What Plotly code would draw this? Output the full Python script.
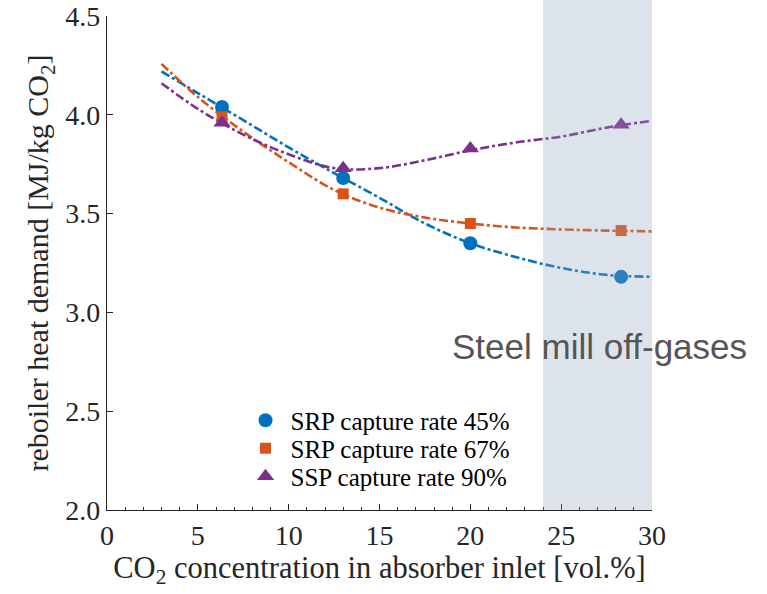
import plotly.graph_objects as go

# Simulated operating points: CO2 concentration in absorber inlet [vol.%]
co2_pts = [6.33, 13.0, 20.0, 28.3]
srp45_pts = [4.04, 3.68, 3.35, 3.18]
srp67_pts = [3.99, 3.60, 3.45, 3.414]
ssp90_pts = [3.96, 3.73, 3.83, 3.95]

# Fitted trend curves through the operating points
fit_x = [3, 5, 7.5, 10, 12.5, 15, 17.5, 20, 22.5, 25, 27.5, 30]
srp45_fit = [4.22, 4.11, 3.973, 3.835, 3.705, 3.58, 3.45, 3.35, 3.28, 3.225, 3.19, 3.18]
srp67_fit = [4.258, 4.09, 3.915, 3.76, 3.62, 3.53, 3.48, 3.45, 3.43, 3.42, 3.414, 3.41]
ssp90_fit = [4.16, 4.03, 3.90, 3.80, 3.73, 3.73, 3.77, 3.82, 3.86, 3.89, 3.935, 3.97]

series_names = ["SRP capture rate 45%", "SRP capture rate 67%", "SSP capture rate 90%"]
colors = ["#0072BD", "#D95319", "#7E2F8E"]
symbols = ["circle", "square", "triangle-up"]
marker_sizes = [14, 11, 15]

# Steel mill off-gas concentration band
band_x = [24, 30]
band_label = "Steel mill off-gases"

serif = "Liberation Serif"
ink = "#262626"

fig = go.Figure()

for fit_y, col in zip([srp45_fit, srp67_fit, ssp90_fit], colors):
    fig.add_trace(go.Scatter(
        x=fit_x, y=fit_y, mode="lines", showlegend=False, hoverinfo="skip",
        line=dict(color=col, width=2.6, dash="9px,3px,3px,3px", shape="spline"),
    ))

# one legend box per series so the rows can sit close together
legend_ids = ["legend", "legend2", "legend3"]
for pts, name, col, sym, ms, lg in zip([srp45_pts, srp67_pts, ssp90_pts], series_names,
                                       colors, symbols, marker_sizes, legend_ids):
    fig.add_trace(go.Scatter(
        x=co2_pts, y=pts, mode="markers", name=name, legend=lg,
        marker=dict(color=col, symbol=sym, size=ms, line=dict(width=0)),
    ))

fig.add_shape(type="rect", xref="x", yref="paper", x0=band_x[0], x1=band_x[1],
              y0=0, y1=1 + 16 / 494, fillcolor="rgba(142,162,185,0.3)",
              line=dict(width=0), layer="above")

fig.add_annotation(x=27.13, y=2.828, xref="x", yref="y", text=band_label,
                   showarrow=False, font=dict(family="Liberation Sans", size=35, color="#555555"))

axis_common = dict(
    showline=True, linecolor=ink, linewidth=1.3, showgrid=False, zeroline=False,
    ticks="inside", ticklen=6, tickwidth=1.2, tickcolor=ink, automargin=False,
    tickfont=dict(family=serif, size=28, color=ink),
)

legend_common = dict(xanchor="left", yanchor="middle", bgcolor="rgba(0,0,0,0)",
                     font=dict(family=serif, size=25, color="black"), itemwidth=40)
row_px = [420.5, 448.5, 476.5]
legend_layout = {lg: dict(x=0.245, y=(510 - py) / 494, **legend_common)
                 for lg, py in zip(legend_ids, row_px)}

fig.update_layout(
    width=767, height=594,
    margin=dict(l=107, r=115, t=16, b=84),
    plot_bgcolor="white", paper_bgcolor="white",
    xaxis=dict(range=[0, 30], dtick=5,
               minor=dict(dtick=1, ticks="inside", ticklen=3, tickcolor=ink, tickwidth=1),
               title=dict(text="CO<sub>2</sub> concentration in absorber inlet [vol.%]",
                          font=dict(family=serif, size=30.5, color=ink), standoff=3),
               tickformat="d", **axis_common),
    yaxis=dict(range=[2, 4.5], dtick=0.5, tickformat=".1f",
               title=dict(text="reboiler heat demand [MJ/kg CO<sub>2</sub>]",
                          font=dict(family=serif, size=30, color=ink), standoff=7),
               **axis_common),
    showlegend=True,
    **legend_layout,
)

fig.write_html("out.html")
